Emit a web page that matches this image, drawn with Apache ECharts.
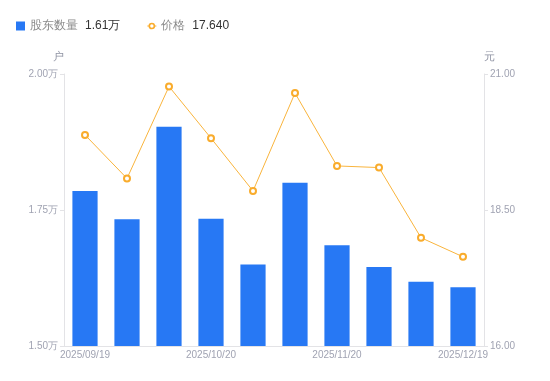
<!DOCTYPE html>
<html>
<head>
<meta charset="utf-8">
<script src="https://cdn.jsdelivr.net/npm/echarts@6/dist/echarts.min.js"></script>
<style>html,body{margin:0;padding:0;background:#fff}#c{width:550px;height:381px}</style>
</head>
<body>
<div id="c"></div>
<script>
var categories = ['2025/09/19','2025/09/30','2025/10/10','2025/10/20','2025/10/31','2025/11/10','2025/11/20','2025/11/28','2025/12/10','2025/12/19'];
var holders = [1.785,1.733,1.903,1.734,1.650,1.800,1.685,1.645,1.618,1.608];
var prices = [19.88,19.08,20.77,19.82,18.85,20.65,19.31,19.28,17.99,17.64];
var leftTicks = [1.50,1.75,2.00];
var rightTicks = [16.00,18.50,21.00];

var chart = echarts.init(document.getElementById('c'));
var labelColor = '#a0a3b2';
var lineColor = '#e3e3e6';
var latest = {
  '股东数量': holders[holders.length-1].toFixed(2) + '万',
  '价格': prices[prices.length-1].toFixed(3)
};
var lineIcon = 'path://M0,3.9L1.6,3.9L1.6,5.1L0,5.1Z M8.4,3.9L10,3.9L10,5.1L8.4,5.1Z M5,0.8A3.7,3.7 0 1 1 4.99,0.8Z M5,2.6A1.9,1.9 0 1 0 5.01,2.6Z M0,0L0.01,0L0.01,0.01Z M10,9L9.99,9L9.99,8.99Z';
chart.setOption({
  animation: false,
  legend: {
    left: 11, top: 15,
    itemWidth: 9, itemHeight: 9, itemGap: 27,
    data: [{name:'股东数量', icon:'rect'}, {name:'价格', icon: lineIcon, itemStyle: {color: '#f9ac2c', borderWidth: 0}}],
    formatter: function(n){ return '{n|' + n + '}{v|' + latest[n] + '}'; },
    textStyle: {
      rich: {
        n: {fontSize: 12, color: '#8a8a8a', padding:[0,7,0,0]},
        v: {fontSize: 12, color: '#333'}
      }
    }
  },
  grid: {left: 64, right: 66, top: 74, bottom: 35},
  xAxis: {
    type: 'category', data: categories,
    axisLine: {lineStyle: {color: lineColor}},
    axisTick: {show: false},
    axisLabel: {color: labelColor, fontSize: 10, interval: 2, margin: 4}
  },
  yAxis: [{
    type: 'value', min: leftTicks[0], max: leftTicks[2], interval: 0.25,
    name: '户', nameGap: 12,
    nameTextStyle: {color: '#8f93a3', fontSize: 11, align: 'right'},
    axisLine: {show: true, lineStyle: {color: lineColor}},
    axisTick: {show: true, length: 4, lineStyle: {color: lineColor}},
    splitLine: {show: false},
    axisLabel: {color: labelColor, fontSize: 10, margin: 6, formatter: function(v){ return v.toFixed(2) + '万'; }}
  }, {
    type: 'value', min: rightTicks[0], max: rightTicks[2], interval: 2.5,
    name: '元', nameGap: 12,
    nameTextStyle: {color: '#8f93a3', fontSize: 11, align: 'left'},
    axisLine: {show: true, lineStyle: {color: lineColor}},
    axisTick: {show: true, length: 4, lineStyle: {color: lineColor}},
    splitLine: {show: false},
    axisLabel: {color: labelColor, fontSize: 10, margin: 6, formatter: function(v){ return v.toFixed(2); }}
  }],
  series: [{
    name: '股东数量', type: 'bar', data: holders, barWidth: '60%',
    itemStyle: {color: '#2778f4'}
  }, {
    name: '价格', type: 'line', yAxisIndex: 1, data: prices,
    symbol: 'circle', symbolSize: 6, showAllSymbol: true,
    itemStyle: {color: '#fff', borderColor: '#f9ac2c', borderWidth: 2},
    lineStyle: {color: '#f9b43c', width: 1}
  }]
});
</script>
</body>
</html>
